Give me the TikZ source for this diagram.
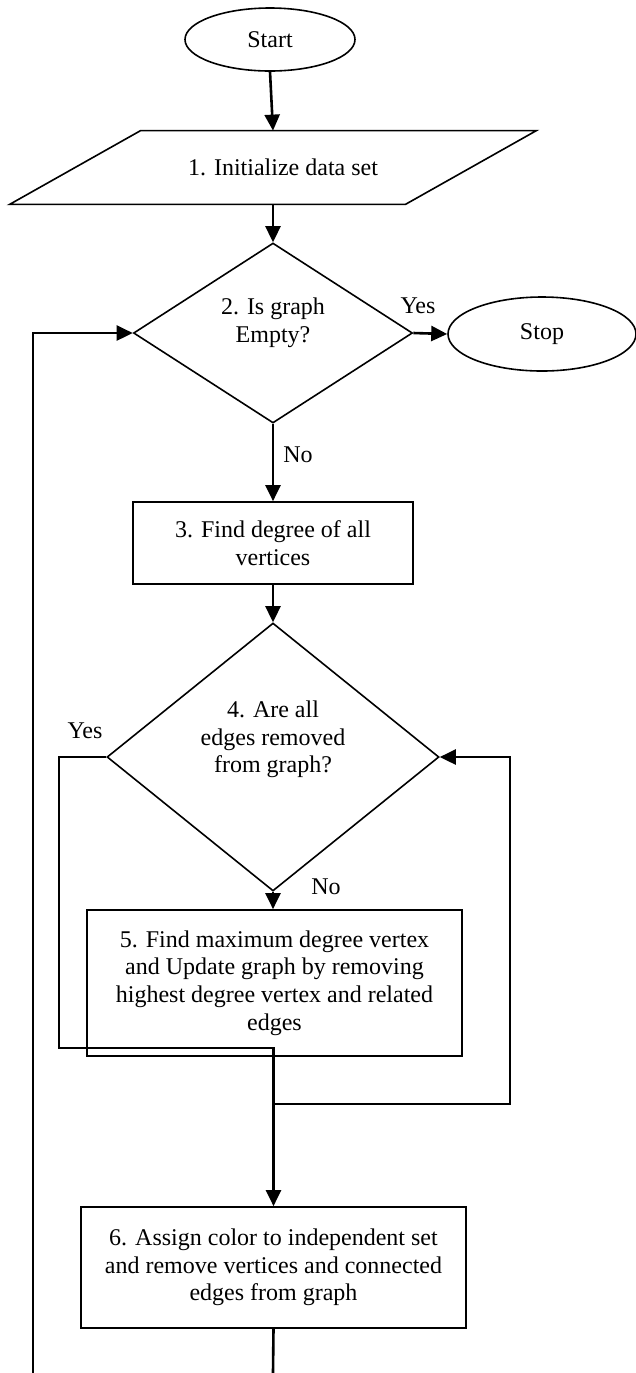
\documentclass[tikz,border=0pt]{standalone}
\usepackage{fontspec}
\setmainfont{Liberation Serif}
\usetikzlibrary{shapes.geometric,arrows.meta}

\begin{document}
\begin{tikzpicture}[x=0.5pt,y=-0.5pt,
        font=\fontsize{12}{13.85}\selectfont,
        terminal/.style={draw,ellipse,line width=0.8pt,inner sep=0pt},
        procbox/.style={draw,rectangle,line width=0.85pt,align=center,inner sep=0pt},
        decision/.style={draw,diamond,line width=0.8pt,inner sep=0pt},
        flowline/.style={line width=1.3pt},
        flowarrow/.style={line width=1.3pt,-{Triangle[length=8pt,width=7.5pt]}}]
        \useasboundingbox (0,0) rectangle (636,1373);

        \node[terminal,minimum width=85pt,minimum height=31.5pt] (start) at (270,39.5) {Start};

        \node[minimum width=197.5pt,minimum height=36.5pt,inner sep=0pt] (init) at (283,167.5) {1. Initialize data set};
        \draw[line width=0.8pt] ([xshift=27.75pt]init.north west) -- ([xshift=27.75pt]init.north east)
            -- ([xshift=-37.75pt]init.south east) -- ([xshift=-37.75pt]init.south west) -- cycle;

        \node[decision,minimum width=139.5pt,minimum height=90pt,
            label={[align=center,yshift=5pt]center:2. Is graph\\Empty?}] (empty) at (273,333) {};
        \node[terminal,minimum width=94pt,minimum height=37pt] (stop) at (542,334) {Stop};

        \node[procbox,minimum width=140pt,minimum height=41pt] (degree) at (273,543) {3. Find degree of all\\vertices};

        \node[decision,minimum width=166pt,minimum height=134pt,
            label={[align=center,yshift=8.75pt]center:4. Are all\\edges removed\\from graph?}] (removed) at (273,757) {};

        \node[procbox,minimum width=187.5pt,minimum height=73pt] (update) at (274.5,983)
            {5. Find maximum degree vertex\\and Update graph by removing\\highest degree vertex and related\\edges};

        \node[procbox,minimum width=192.5pt,minimum height=60.5pt] (assign) at (273.5,1267.5)
            {6. Assign color to independent set\\and remove vertices and connected\\edges from graph};

        \node (yes1) at (418,306) {Yes};
        \node (no1) at (298,455) {No};
        \node (yes2) at (85,731) {Yes};
        \node (no2) at (326,887) {No};

        \coordinate (yesturn) at (59,1048);
        \coordinate (loopturn) at (510,1104);
        \coordinate (leftend) at (33,1373);
        \coordinate (downend) at (273,1373);

        \draw[flowarrow] (start.south) -- (init.north -| empty.north);
        \draw[flowarrow] (init.south -| empty.north) -- (empty.north);
        \draw[flowarrow] (empty.east) -- (stop.west);
        \draw[flowarrow] (empty.south) -- (degree.north);
        \draw[flowarrow] (degree.south) -- (removed.north);
        \draw[flowarrow] (removed.south) -- (removed.south |- update.north);
        \draw[flowarrow] (removed.west) -| (yesturn) -| (assign.north);
        \draw[flowarrow] (update.south -| removed.south) |- (loopturn) |- (removed.east);
        \draw[flowarrow] (leftend) |- (empty.west);
        \draw[flowline] (assign.south) -- (downend);

    \end{tikzpicture}
\end{document}
